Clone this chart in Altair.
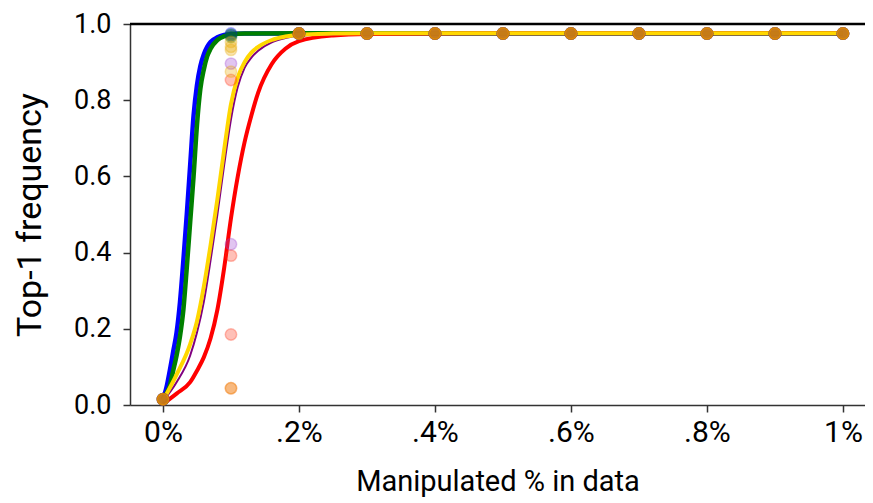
import altair as alt
import pandas as pd

# ---- fitted curves ----
fast_x = [0, 0.005, 0.01, 0.015, 0.02, 0.025, 0.03, 0.035, 0.04, 0.045, 0.05,
          0.055, 0.06, 0.065, 0.07, 0.08, 0.09, 0.1, 0.12, 0.2, 0.5, 1.0]
blue_y = [0.015, 0.045, 0.09, 0.14, 0.19, 0.27, 0.38, 0.50, 0.63, 0.76, 0.84,
          0.89, 0.92, 0.94, 0.953, 0.965, 0.971, 0.974, 0.975, 0.975, 0.975, 0.975]
green_y = [0.015, 0.03, 0.05, 0.09, 0.13, 0.18, 0.25, 0.36, 0.48, 0.60, 0.735,
           0.83, 0.88, 0.915, 0.935, 0.958, 0.968, 0.972, 0.975, 0.976, 0.976, 0.976]

slow_x = [0, 0.02, 0.04, 0.05, 0.06, 0.07, 0.08, 0.09, 0.10, 0.11, 0.12, 0.13,
          0.14, 0.16, 0.18, 0.20, 0.25, 0.3, 0.5, 1.0]
gold_y = [0.012, 0.08, 0.16, 0.22, 0.31, 0.42, 0.54, 0.67, 0.79, 0.86, 0.90, 0.925,
          0.94, 0.958, 0.967, 0.972, 0.975, 0.976, 0.976, 0.976]
purple_y = [0.01, 0.06, 0.13, 0.19, 0.27, 0.38, 0.50, 0.63, 0.75, 0.835, 0.885, 0.912,
            0.93, 0.952, 0.963, 0.969, 0.973, 0.975, 0.976, 0.976]
red_y = [0.003, 0.03, 0.06, 0.09, 0.125, 0.175, 0.25, 0.36, 0.49, 0.60, 0.69, 0.76,
         0.82, 0.895, 0.935, 0.955, 0.97, 0.974, 0.976, 0.976]

# ---- observed points ----
pct = [0.0, 0.1, 0.2, 0.3, 0.4, 0.5, 0.6, 0.7, 0.8, 0.9, 1.0]
low_val = 0.015
high_val = 0.975
blue_at_01 = [0.975, 0.970]
purple_at_01 = [0.896, 0.422]
green_at_01 = [0.972, 0.966]
red_at_01 = [0.853, 0.392, 0.185, 0.044]
gold_at_01 = [0.953, 0.940, 0.932, 0.875, 0.044]

series = ["blue", "green", "purple", "gold", "red"]
colors = ["#0000ff", "#008000", "#800080", "#ffd700", "#ff0000"]
point_colors = ["#0000ff", "#008000", "#9a40d0", "#e8a800", "#ff3010"]

# lines table
rows = []
for name, xs, ys in [("blue", fast_x, blue_y), ("green", fast_x, green_y),
                     ("red", slow_x, red_y), ("purple", slow_x, purple_y),
                     ("gold", slow_x, gold_y)]:
    for x, y in zip(xs, ys):
        rows.append({"s": name, "x": x, "y": y})
lines_df = pd.DataFrame(rows)

# points table (two trials per series at each level, drawn in this order)
prow = []
for name, at01 in [("blue", blue_at_01), ("purple", purple_at_01),
                   ("green", green_at_01), ("red", red_at_01), ("gold", gold_at_01)]:
    for p in pct:
        if p == 0.1:
            for v in at01:
                prow.append({"s": name, "x": p, "y": v})
        else:
            v = low_val if p == 0.0 else high_val
            for _ in range(2):
                prow.append({"s": name, "x": p, "y": v})
pts_df = pd.DataFrame(prow)

cscale = alt.Scale(domain=series, range=colors)
pscale = alt.Scale(domain=series, range=point_colors)
xscale = alt.Scale(domain=[-0.0485, 1.0324], nice=False, zero=False)
yscale = alt.Scale(domain=[0, 1], nice=False)

x_axis = alt.Axis(values=[0, 0.2, 0.4, 0.6, 0.8, 1.0], grid=False,
                  labelExpr="datum.value == 0 ? '0%' : (datum.value >= 1 ? '1%' : substring(format(datum.value, '.1f'), 1) + '%')",
                  title="Manipulated % in data")
y_axis = alt.Axis(values=[0, 0.2, 0.4, 0.6, 0.8, 1.0], format=".1f", grid=False,
                  title="Top-1 frequency")


def line_layer(name, width):
    return alt.Chart(lines_df[lines_df.s == name]).mark_line(
        strokeWidth=width, interpolate="monotone"
    ).encode(
        x=alt.X("x:Q", scale=xscale, axis=x_axis),
        y=alt.Y("y:Q", scale=yscale, axis=y_axis),
        color=alt.Color("s:N", scale=cscale, legend=None),
    )


points = alt.Chart(pts_df).mark_point(
    filled=True, shape="circle", size=130, fillOpacity=0.3, strokeOpacity=0.3,
    strokeWidth=1.5
).encode(
    x=alt.X("x:Q", scale=xscale, axis=x_axis),
    y=alt.Y("y:Q", scale=yscale, axis=y_axis),
    fill=alt.Fill("s:N", scale=pscale, legend=None),
    stroke=alt.Stroke("s:N", scale=pscale, legend=None),
)

top_rule = alt.Chart(pd.DataFrame({"y": [1.0]})).mark_rule(
    color="black", strokeWidth=2.5
).encode(y=alt.Y("y:Q", scale=yscale, axis=y_axis))

chart = alt.layer(
    line_layer("blue", 4.5),
    line_layer("green", 4.5),
    line_layer("red", 4),
    line_layer("purple", 2),
    line_layer("gold", 4),
    points,
    top_rule,
).properties(
    width=735, height=381,
    autosize=alt.AutoSizeParams(type="none"),
    padding={"left": 122, "top": 16, "right": 0, "bottom": 98},
).configure_view(
    stroke=None
).configure_axis(
    labelFont="Roboto", titleFont="Roboto",
    labelColor="black", titleColor="black",
    domainColor="#333333", domainWidth=1.5,
    tickColor="#333333", tickWidth=1.5, tickSize=7,
    labelFontSize=29, titleFontSize=29, titleFontWeight="normal",
).configure_axisY(
    labelPadding=12, titlePadding=26, titleFontSize=34, labelFontSize=27,
).configure_axisX(
    labelPadding=5, titlePadding=20, labelFontSize=30,
)

chart.save("out.html", embed_options={"renderer": "svg", "actions": False})
